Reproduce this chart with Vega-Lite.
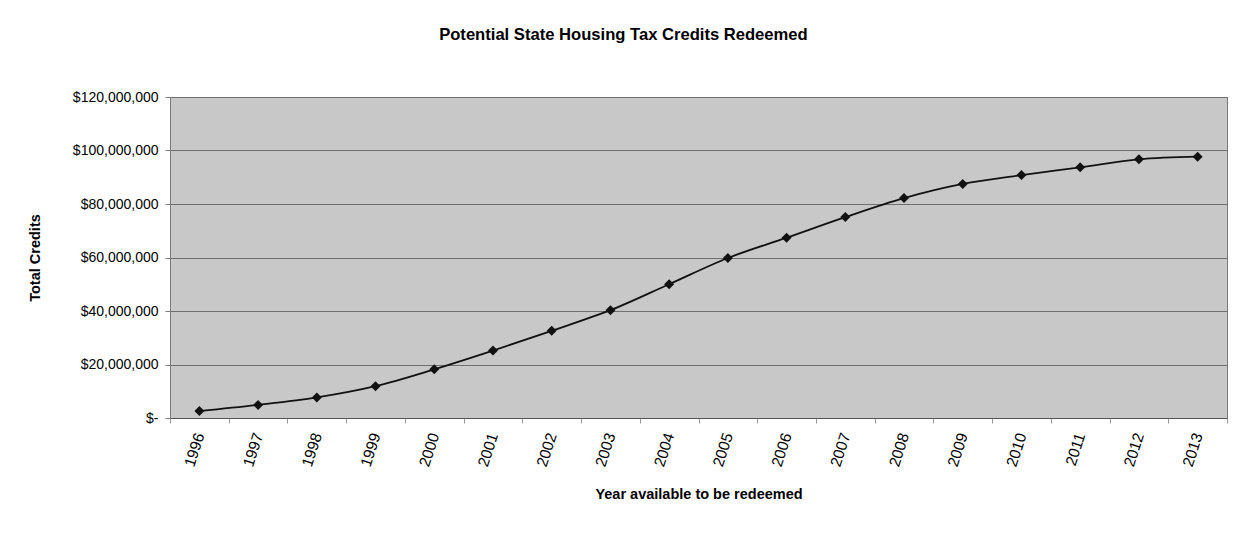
{
  "$schema": "https://vega.github.io/schema/vega-lite/v6.json",
  "autosize": {"type": "none"},
  "width": 1057,
  "height": 321,
  "padding": {"left": 170, "top": 97, "right": 7, "bottom": 132},
  "background": "white",
  "title": {
    "text": "Potential State Housing Tax Credits Redeemed",
    "font": "Liberation Sans",
    "fontSize": 16.6,
    "fontWeight": "bold",
    "color": "black",
    "anchor": "middle",
    "frame": "bounds",
    "offset": 46,
    "dx": -4
  },
  "config": {
    "view": {"fill": "#c8c8c8", "stroke": "#7a7a7a", "strokeWidth": 1},
    "font": "Liberation Sans"
  },
  "data": {
    "values": [
      {"year": "1996", "credits": 2600000},
      {"year": "1997", "credits": 4900000},
      {"year": "1998", "credits": 7700000},
      {"year": "1999", "credits": 11900000},
      {"year": "2000", "credits": 18200000},
      {"year": "2001", "credits": 25200000},
      {"year": "2002", "credits": 32600000},
      {"year": "2003", "credits": 40300000},
      {"year": "2004", "credits": 50000000},
      {"year": "2005", "credits": 59800000},
      {"year": "2006", "credits": 67400000},
      {"year": "2007", "credits": 75100000},
      {"year": "2008", "credits": 82200000},
      {"year": "2009", "credits": 87500000},
      {"year": "2010", "credits": 90800000},
      {"year": "2011", "credits": 93700000},
      {"year": "2012", "credits": 96700000},
      {"year": "2013", "credits": 97700000}
    ]
  },
  "encoding": {
    "x": {
      "field": "year",
      "type": "ordinal",
      "scale": {"paddingInner": 0, "paddingOuter": 0},
      "axis": {
        "title": "Year available to be redeemed",
        "titleFont": "Liberation Sans",
        "titleFontSize": 14.5,
        "titleFontWeight": "bold",
        "titleColor": "black",
        "titlePadding": 19,
        "labelAngle": -72,
        "labelFont": "Liberation Sans",
        "labelFontSize": 15.5,
        "labelColor": "black",
        "labelPadding": 10,
        "tickBand": "extent",
        "tickSize": 5,
        "tickColor": "#9a9a9a",
        "domainColor": "#555555",
        "grid": false
      }
    },
    "y": {
      "field": "credits",
      "type": "quantitative",
      "scale": {"domain": [0, 120000000], "nice": false},
      "axis": {
        "title": "Total Credits",
        "titleFont": "Liberation Sans",
        "titleFontSize": 14.5,
        "titleFontWeight": "bold",
        "titleColor": "black",
        "titlePadding": 30,
        "values": [0, 20000000, 40000000, 60000000, 80000000, 100000000, 120000000],
        "labelExpr": "datum.value == 0 ? '$-' : '$' + format(datum.value, ',.0f')",
        "labelFont": "Liberation Sans",
        "labelFontSize": 14,
        "labelColor": "black",
        "labelPadding": 7,
        "tickSize": 5,
        "tickColor": "#7a7a7a",
        "domainColor": "#7a7a7a",
        "grid": true,
        "gridColor": "#707070",
        "gridWidth": 1
      }
    }
  },
  "layer": [
    {
      "mark": {"type": "line", "color": "#111111", "strokeWidth": 1.8, "interpolate": "monotone"}
    },
    {
      "mark": {"type": "point", "shape": "diamond", "filled": true, "color": "#111111", "opacity": 1, "size": 100}
    }
  ]
}
